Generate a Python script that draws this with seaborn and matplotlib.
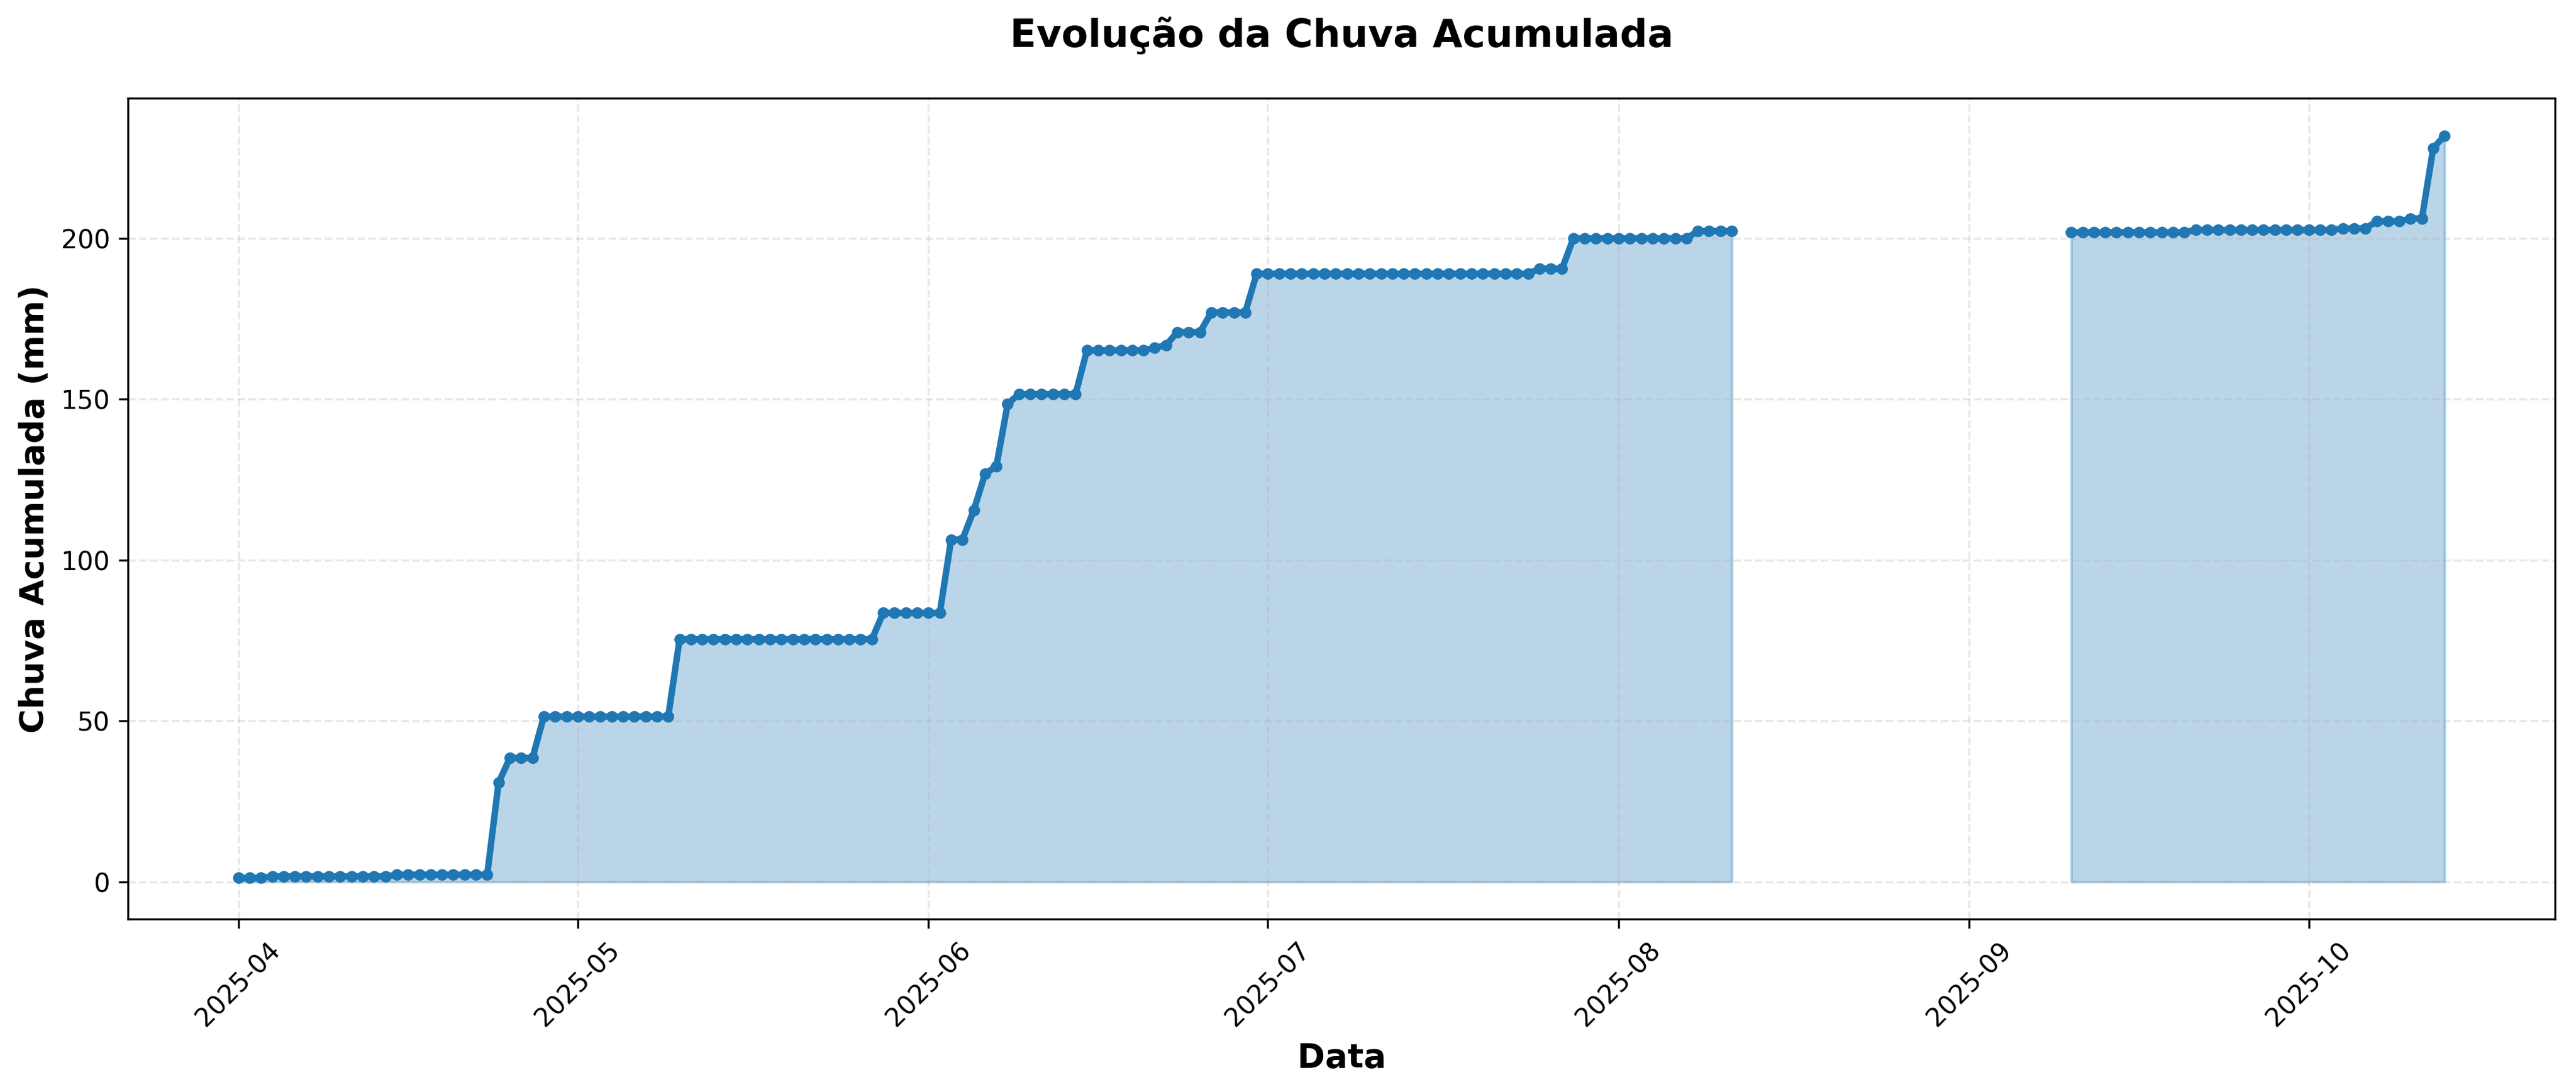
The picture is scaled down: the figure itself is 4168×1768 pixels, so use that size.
import matplotlib
matplotlib.use("Agg")
import numpy as np
import pandas as pd
import matplotlib.pyplot as plt
import matplotlib.dates as mdates
import seaborn as sns

# periodo 1: 2025-04-01 .. 2025-08-11 (dados diarios)
dates_1 = pd.date_range("2025-04-01", "2025-08-11", freq="D")
chuva_1 = [
    1.2, 1.2, 1.2,
    1.7, 1.7, 1.7, 1.7, 1.7, 1.7, 1.7, 1.7, 1.7, 1.7, 1.7,
    2.2, 2.2, 2.2, 2.2, 2.2, 2.2, 2.2, 2.2, 2.2,
    30.8,
    38.5, 38.5, 38.5,
    51.4, 51.4, 51.4, 51.4, 51.4, 51.4, 51.4, 51.4, 51.4, 51.4, 51.4, 51.4,
    75.4, 75.4, 75.4, 75.4, 75.4, 75.4, 75.4, 75.4, 75.4,
    75.4, 75.4, 75.4, 75.4, 75.4, 75.4, 75.4, 75.4, 75.4,
    83.6, 83.6, 83.6, 83.6, 83.6, 83.6,
    106.4, 106.4,
    115.5,
    126.8,
    129.2,
    148.6,
    151.6, 151.6, 151.6, 151.6, 151.6, 151.6,
    165.2, 165.2, 165.2, 165.2, 165.2, 165.2,
    166.0,
    166.8,
    170.9, 170.9, 170.9,
    177.0, 177.0, 177.0, 177.0,
    189.0, 189.0, 189.0, 189.0, 189.0, 189.0, 189.0, 189.0, 189.0, 189.0,
    189.0, 189.0, 189.0, 189.0, 189.0, 189.0, 189.0, 189.0, 189.0, 189.0,
    189.0, 189.0, 189.0, 189.0, 189.0,
    190.6, 190.6, 190.6,
    200.0, 200.0, 200.0, 200.0, 200.0, 200.0, 200.0, 200.0, 200.0, 200.0, 200.0,
    202.3, 202.3, 202.3, 202.3,
]

# periodo 2: 2025-09-10 .. 2025-10-13
dates_2 = pd.date_range("2025-09-10", "2025-10-13", freq="D")
chuva_2 = [
    201.9, 201.9, 201.9, 201.9, 201.9, 201.9, 201.9, 201.9, 201.9, 201.9, 201.9,
    202.6, 202.6, 202.6, 202.6, 202.6, 202.6, 202.6, 202.6, 202.6, 202.6,
    202.6, 202.6, 202.6,
    203.1, 203.1, 203.1,
    205.3, 205.3, 205.3,
    206.2, 206.2,
    228.1,
    231.9,
]

cor = "#1f77b4"

fig, ax = plt.subplots(figsize=(4168 / 300, 1768 / 300), dpi=300)
fig.subplots_adjust(left=0.0497, right=0.9918, bottom=0.1583, top=0.9098)

for d, v in [(dates_1, chuva_1), (dates_2, chuva_2)]:
    df = pd.DataFrame({"Data": d, "Chuva": v})
    sns.lineplot(data=df, x="Data", y="Chuva", ax=ax, color=cor, linewidth=2.5,
                 marker="o", markersize=3.5, markeredgecolor=cor, markeredgewidth=1)
    ax.fill_between(df["Data"], df["Chuva"], alpha=0.3, color=cor)

ax.set_title("Evolução da Chuva Acumulada", fontsize=15, fontweight="bold", pad=20)
ax.set_xlabel("Data", fontsize=13, fontweight="bold")
ax.set_ylabel("Chuva Acumulada (mm)", fontsize=13, fontweight="bold")
ax.grid(True, alpha=0.3, linestyle="--")
ax.xaxis.set_major_locator(mdates.MonthLocator())
ax.xaxis.set_major_formatter(mdates.DateFormatter("%Y-%m"))
plt.setp(ax.get_xticklabels(), rotation=45)

fig.savefig("out.png", dpi=300)
